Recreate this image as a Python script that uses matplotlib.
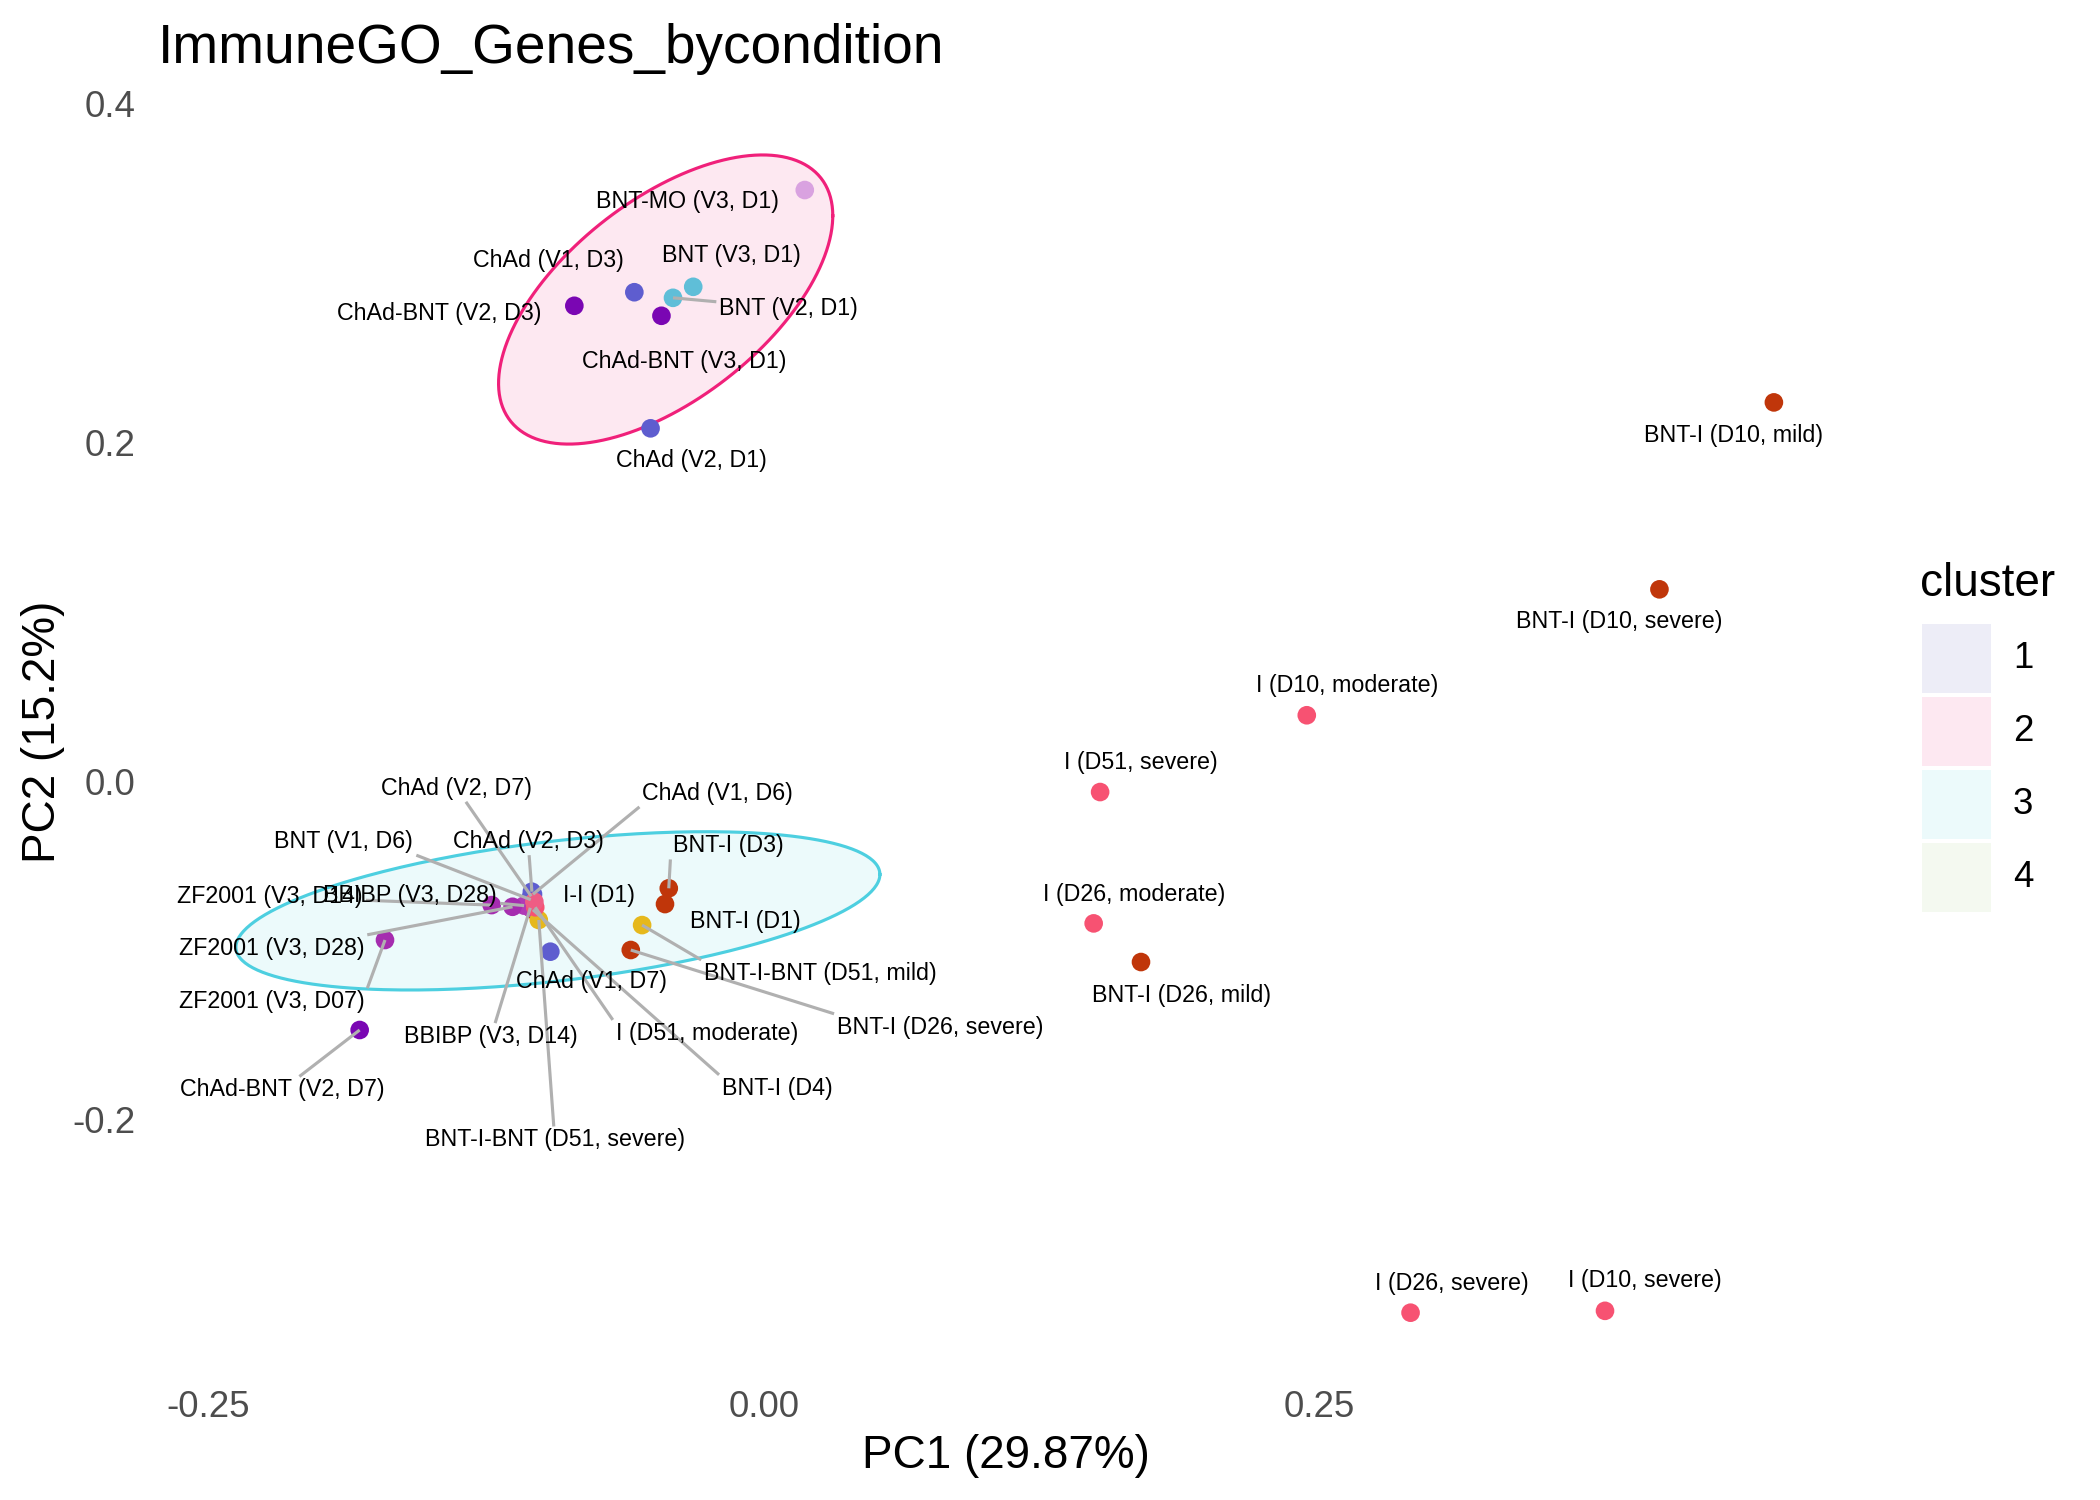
import numpy as np
import matplotlib
matplotlib.use("Agg")
import matplotlib.pyplot as plt
from matplotlib.patches import Rectangle

plt.rcParams['font.family'] = ['Liberation Sans', 'DejaVu Sans']
plt.rcParams['axes.unicode_minus'] = False

# samples and their PCA scores
samples = ['BNT-MO (V3, D1)', 'ChAd (V1, D3)', 'BNT (V3, D1)', 'BNT (V2, D1)',
           'ChAd-BNT (V2, D3)', 'ChAd-BNT (V3, D1)', 'ChAd (V2, D1)',
           'BNT-I (D10, mild)', 'BNT-I (D10, severe)', 'I (D10, moderate)',
           'I (D51, severe)', 'I (D26, moderate)', 'BNT-I (D26, mild)',
           'I (D26, severe)', 'I (D10, severe)', 'ChAd-BNT (V2, D7)',
           'ZF2001 (V3, D07)', 'BNT-I (D3)', 'BNT-I (D1)', 'BNT-I-BNT (D51, mild)',
           'BNT-I (D26, severe)', 'ChAd (V1, D7)', 'BNT-I (D4)', 'BBIBP (V3, D14)',
           'BNT-I-BNT (D51, severe)', 'BNT (V1, D6)', 'ChAd (V2, D7)', 'ChAd (V1, D6)',
           'ChAd (V2, D3)', 'BBIBP (V3, D28)', 'ZF2001 (V3, D14)', 'ZF2001 (V3, D28)',
           'I (D51, moderate)', 'I-I (D1)']
pc1 = [0.0183, -0.0584, -0.0319, -0.0410, -0.0854, -0.0462, -0.0511,
       0.4544, 0.4029, 0.2442, 0.1512, 0.1483, 0.1696, 0.2909, 0.3784,
       -0.1820, -0.1706, -0.0429, -0.0446, -0.0549, -0.0600, -0.0962,
       -0.1040, -0.1052, -0.1014, -0.1050, -0.1048, -0.1040, -0.1045,
       -0.1080, -0.1226, -0.1132, -0.1030, -0.1034]
pc2 = [0.3487, 0.2884, 0.2916, 0.2851, 0.2804, 0.2745, 0.2081,
       0.2234, 0.1131, 0.0388, -0.0065, -0.0840, -0.1068, -0.3137, -0.3126,
       -0.1469, -0.0938, -0.0633, -0.0726, -0.0850, -0.0997, -0.1007,
       -0.0760, -0.0748, -0.0820, -0.0700, -0.0680, -0.0668, -0.0653,
       -0.0735, -0.0732, -0.0742, -0.0745, -0.0712]

# where the repelled labels ended up
lab_pc1 = [-0.0344, -0.0970, -0.0149, 0.0111, -0.1460, -0.0359, -0.0329,
           0.4361, 0.3847, 0.2625, 0.1694, 0.1666, 0.1879, 0.3094, 0.3965,
           -0.2170, -0.2217, -0.0159, -0.0084, 0.0254, 0.0793, -0.0779,
           0.0060, -0.1229, -0.0942, -0.1891, -0.1384, -0.0208, -0.1062,
           -0.1592, -0.2223, -0.2217, -0.0257, -0.0743]
lab_pc2 = [0.3418, 0.3069, 0.3103, 0.2789, 0.2759, 0.2474, 0.1894,
           0.2041, 0.0940, 0.0562, 0.0108, -0.0667, -0.1263, -0.2963, -0.2948,
           -0.1823, -0.1302, -0.0383, -0.0830, -0.1135, -0.1453, -0.1184,
           -0.1813, -0.1508, -0.2118, -0.0358, -0.0043, -0.0073, -0.0358,
           -0.0673, -0.0682, -0.0987, -0.1489, -0.0673]

# labels that got a leader segment in the original
with_leader = {'BNT (V2, D1)', 'ChAd (V2, D7)', 'ChAd (V1, D6)', 'BNT (V1, D6)',
               'ChAd (V2, D3)', 'BNT-I (D3)', 'ZF2001 (V3, D14)', 'BBIBP (V3, D28)',
               'ZF2001 (V3, D28)', 'ZF2001 (V3, D07)', 'ChAd-BNT (V2, D7)',
               'BBIBP (V3, D14)', 'BNT-I-BNT (D51, severe)', 'I (D51, moderate)',
               'BNT-I (D4)', 'BNT-I-BNT (D51, mild)', 'BNT-I (D26, severe)'}

vaccine_colours = {
    'BNT-MO': '#D9A2E0', 'ChAd': '#5E5DCF', 'BNT': '#5FBED8',
    'ChAd-BNT': '#7A06B3', 'BNT-I': '#C0360A', 'I': '#F75272',
    'BNT-I-BNT': '#E6B81C', 'ZF2001': '#A52CAF', 'BBIBP': '#B03AB6',
    'I-I': '#EE5C84',
}

# cluster ellipses: centre, half width, half height, correlation
ell_cluster = ['2', '3']
ell_cx = [-0.0443, -0.0928]
ell_cy = [0.2841, -0.0766]
ell_hx = [0.0752, 0.1449]
ell_hy = [0.0853, 0.0467]
ell_r = [0.58, 0.46]

clusters = ['1', '2', '3', '4']
cluster_colours = {'1': '#5555B9', '2': '#F0207A', '3': '#4DCFE0', '4': '#9BCD73'}

W, H = 2100, 1500
fig = plt.figure(figsize=(7, 5), dpi=300)
ax = fig.add_axes([145 / W, 1 - 1381 / H, (1853 - 145) / W, (1381 - 98) / H])
ax.set_xlim(-0.2786, 0.4900)
ax.set_ylim(-0.354, 0.403)
for s in ax.spines.values():
    s.set_visible(False)
ax.set_xticks([-0.25, 0, 0.25])
ax.set_xticklabels(['-0.25', '0.00', '0.25'])
ax.set_yticks([-0.2, 0, 0.2, 0.4])
ax.set_yticklabels(['-0.2', '0.0', '0.2', '0.4'])
ax.tick_params(length=0, pad=2.2, labelsize=8.8, labelcolor='#4D4D4D')

# ellipses
t = np.linspace(0, 2 * np.pi, 300)
for k, cl in enumerate(ell_cluster):
    ex = ell_cx[k] + ell_hx[k] * np.cos(t)
    ey = ell_cy[k] + ell_hy[k] * (ell_r[k] * np.cos(t) + np.sqrt(1 - ell_r[k] ** 2) * np.sin(t))
    ax.fill(ex, ey, facecolor=cluster_colours[cl], alpha=0.1, edgecolor='none', zorder=1)
    ax.plot(ex, ey, color=cluster_colours[cl], lw=0.75, zorder=1.5)

cols = [vaccine_colours[s.split(' (')[0]] for s in samples]
ax.scatter(pc1, pc2, c=cols, s=20, linewidths=0, zorder=3)

texts = []
for s, lx, ly in zip(samples, lab_pc1, lab_pc2):
    texts.append(ax.text(lx, ly, s, fontsize=5.6, ha='center', va='center',
                         color='black', zorder=5))

# leader segments, roughly the way ggrepel connects point and label box
fig.canvas.draw()
rend = fig.canvas.get_renderer()
inv = ax.transData.inverted()
for s, txt, x, y in zip(samples, texts, pc1, pc2):
    if s not in with_leader:
        continue
    bb = txt.get_window_extent(rend)
    bx0, bx1, by0, by1 = bb.x0 - 3, bb.x1 + 3, bb.y0 - 2, bb.y1 + 2
    px, py = ax.transData.transform((x, y))
    if bx0 <= px <= bx1 or by0 <= py <= by1:
        # point faces a side: aim at the box centre
        cx, cy = (bx0 + bx1) / 2, (by0 + by1) / 2
        dx, dy = cx - px, cy - py
        frac = min((bx1 - bx0) / 2 / abs(dx) if dx else np.inf,
                   (by1 - by0) / 2 / abs(dy) if dy else np.inf)
        ex, ey = cx - frac * dx, cy - frac * dy
    else:
        # point off a corner: go to the nearest corner
        ex = min(max(px, bx0), bx1)
        ey = min(max(py, by0), by1)
    (x0, y0), (x1, y1) = inv.transform([(px, py), (ex, ey)])
    ax.plot([x0, x1], [y0, y1], color='#B0B0B0', lw=0.75, zorder=4,
            solid_capstyle='butt')

fig.text(158 / W, 1 - 63.3 / H, 'ImmuneGO_Genes_bycondition', fontsize=13.2,
         va='baseline', ha='left')
fig.text(1006 / W, 1 - 1468 / H, 'PC1 (29.87%)', fontsize=11, ha='center',
         va='baseline')
fig.text(43 / W, 1 - 732 / H, 'PC2 (15.2%)', fontsize=11, rotation=90,
         ha='center', va='center')

# legend
fig.text(1920 / W, 1 - 596 / H, 'cluster', fontsize=11, va='baseline', ha='left')
for i, cl in enumerate(clusters):
    top = 624 + i * 73
    fig.add_artist(Rectangle((1922 / W, 1 - (top + 69) / H), 69 / W, 69 / H,
                             transform=fig.transFigure, facecolor=cluster_colours[cl],
                             alpha=0.1, edgecolor='none'))
    fig.text(2013 / W, 1 - (top + 34.5) / H, cl, fontsize=8.8, va='center',
             ha='left')

fig.savefig('out.png', dpi=300)
